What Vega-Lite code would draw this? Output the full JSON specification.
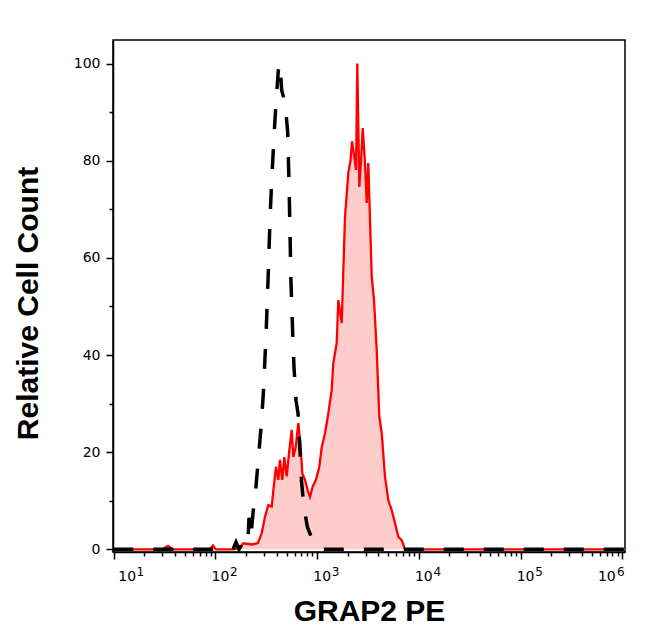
{
  "$schema": "https://vega.github.io/schema/vega-lite/v6.json",
  "width": 512,
  "height": 512,
  "autosize": "none",
  "padding": {"left": 113, "top": 40, "right": 21, "bottom": 89},
  "background": "white",
  "datasets": {
    "sample": [
      {"x": 9.9, "y": 0}, {"x": 30, "y": 0}, {"x": 34.2, "y": 0.7}, {"x": 38, "y": 0},
      {"x": 88, "y": 0}, {"x": 94.7, "y": 0.8}, {"x": 101, "y": 0}, {"x": 148.9, "y": 0},
      {"x": 174.4, "y": 0.3}, {"x": 186.7, "y": 1.2}, {"x": 195.3, "y": 1.2}, {"x": 229, "y": 1.0},
      {"x": 262, "y": 1.3}, {"x": 285, "y": 3.3}, {"x": 307, "y": 6.7}, {"x": 331, "y": 9.1},
      {"x": 357.6, "y": 8.8}, {"x": 370.7, "y": 12.1}, {"x": 394, "y": 17}, {"x": 415, "y": 14.3},
      {"x": 431, "y": 18.4}, {"x": 454.6, "y": 14.3}, {"x": 475.6, "y": 19}, {"x": 502, "y": 15},
      {"x": 529, "y": 19.8}, {"x": 562, "y": 24.6}, {"x": 583, "y": 19}, {"x": 615, "y": 21},
      {"x": 653, "y": 26}, {"x": 689, "y": 21}, {"x": 715, "y": 15.6}, {"x": 760, "y": 14.3},
      {"x": 808, "y": 12.1}, {"x": 851, "y": 10.8}, {"x": 904, "y": 12.9}, {"x": 974, "y": 14.3},
      {"x": 1050, "y": 17}, {"x": 1109, "y": 21}, {"x": 1195, "y": 23.9}, {"x": 1288, "y": 28},
      {"x": 1390, "y": 32.8}, {"x": 1441, "y": 38.3}, {"x": 1557, "y": 42.5}, {"x": 1614, "y": 51.3},
      {"x": 1744, "y": 46.6}, {"x": 1879, "y": 68.5}, {"x": 2025, "y": 77.5}, {"x": 2128, "y": 80},
      {"x": 2200, "y": 84}, {"x": 2268, "y": 82.2}, {"x": 2411, "y": 78.1}, {"x": 2482, "y": 100}, {"x": 2597, "y": 74.6},
      {"x": 2700, "y": 80}, {"x": 2805, "y": 86.7}, {"x": 2955, "y": 79.5}, {"x": 3070, "y": 71.3}, {"x": 3184, "y": 79.5},
      {"x": 3440, "y": 56.1}, {"x": 3623, "y": 51.3}, {"x": 3850, "y": 41}, {"x": 4085, "y": 27.3},
      {"x": 4313, "y": 23.9}, {"x": 4647, "y": 14.9}, {"x": 5007, "y": 10.1}, {"x": 5408, "y": 8.1},
      {"x": 5827, "y": 5.4}, {"x": 6280, "y": 2.6}, {"x": 6781, "y": 1.9}, {"x": 7306, "y": 0},
      {"x": 1060000, "y": 0}
    ],
    "control": [
      {"x": 9.9, "y": 0}, {"x": 148.9, "y": 0}, {"x": 159.4, "y": 1.5}, {"x": 170.5, "y": 0},
      {"x": 182.5, "y": 1}, {"x": 195.3, "y": 0.3}, {"x": 209, "y": 2}, {"x": 213.8, "y": 6.5},
      {"x": 223.8, "y": 3}, {"x": 237.9, "y": 9}, {"x": 250.6, "y": 13}, {"x": 265, "y": 19},
      {"x": 280.6, "y": 25}, {"x": 295.6, "y": 32}, {"x": 314.4, "y": 44}, {"x": 331, "y": 57},
      {"x": 344, "y": 68}, {"x": 357.6, "y": 76}, {"x": 376.6, "y": 85}, {"x": 394, "y": 92},
      {"x": 415, "y": 98.5}, {"x": 431, "y": 100}, {"x": 448, "y": 94.5}, {"x": 483, "y": 92},
      {"x": 513, "y": 86}, {"x": 529, "y": 75.5}, {"x": 541, "y": 65}, {"x": 553, "y": 55},
      {"x": 575, "y": 44.5}, {"x": 592, "y": 37.5}, {"x": 620, "y": 30.6}, {"x": 649, "y": 28},
      {"x": 671, "y": 22}, {"x": 702, "y": 14}, {"x": 743, "y": 8.5}, {"x": 804, "y": 4.5},
      {"x": 917, "y": 1.5}, {"x": 974, "y": 1.3}, {"x": 1067, "y": 0.7}, {"x": 1142, "y": 0},
      {"x": 1060000, "y": 0}
    ]
  },
  "resolve": {"axis": {"x": "independent"}},
  "layer": [
    {
      "data": {"name": "sample"},
      "mark": {"type": "area", "color": "#FFCCCC", "opacity": 1},
      "encoding": {
        "x": {
          "field": "x", "type": "quantitative",
          "scale": {"type": "log", "domain": [9.84, 1063000], "nice": false},
          "axis": {
            "orient": "bottom",
            "title": "GRAP2 PE",
            "values": [10,20,30,40,50,60,70,80,90,100,200,300,400,500,600,700,800,900,1000,2000,3000,4000,5000,6000,7000,8000,9000,10000,20000,30000,40000,50000,60000,70000,80000,90000,100000,200000,300000,400000,500000,600000,700000,800000,900000,1000000],
            "labelExpr": "indexof([10,100,1000,10000,100000,1000000], datum.value) >= 0 ? '10' : ''",
            "tickSize": {"condition": {"test": "indexof([10,100,1000,10000,100000,1000000], datum.value) >= 0", "value": 7}, "value": 4},
            "labelAlign": "center",
            "labelOffset": {"condition": [
              {"test": "datum.value == 10", "value": 13},
              {"test": "datum.value == 1000000", "value": -16}
            ], "value": 4.5},
            "labelPadding": 10,
            "labelFontSize": 14,
            "labelOverlap": false,
            "labelFlush": false,
            "titlePadding": 13
          }
        },
        "y": {
          "field": "y", "type": "quantitative",
          "scale": {"domain": [-0.55, 104.85], "nice": false, "zero": false},
          "axis": {
            "title": "Relative Cell Count",
            "values": [0,5,10,15,20,25,30,35,40,45,50,55,60,65,70,75,80,85,90,95,100],
            "labelExpr": "datum.value % 20 == 0 ? datum.label : ''",
            "tickSize": {"condition": {"test": "datum.value % 20 == 0", "value": 7}, "value": 4},
            "labelPadding": 6,
            "labelFontSize": 14,
            "labelOverlap": false,
            "labelFlush": false,
            "titlePadding": 30,
            "titleY": 263
          }
        },
        "y2": {"datum": 0}
      }
    },
    {
      "data": {"name": "sample"},
      "mark": {"type": "line", "color": "#FF0000", "strokeWidth": 2.3},
      "encoding": {
        "x": {"field": "x", "type": "quantitative", "axis": null},
        "y": {"field": "y", "type": "quantitative"}
      }
    },
    {
      "data": {"name": "control"},
      "mark": {"type": "line", "color": "black", "strokeWidth": 3.5, "strokeDash": [20, 20]},
      "encoding": {
        "x": {
          "field": "x", "type": "quantitative",
          "axis": {
            "orient": "bottom",
            "title": null,
            "domain": false,
            "ticks": false,
            "values": [10,100,1000,10000,100000,1000000],
            "labelExpr": "datum.value == 10 ? '1' : datum.value == 100 ? '2' : datum.value == 1000 ? '3' : datum.value == 10000 ? '4' : datum.value == 100000 ? '5' : '6'",
            "labelAlign": "center",
            "labelOffset": {"condition": [
              {"test": "datum.value == 10", "value": 26},
              {"test": "datum.value == 1000000", "value": -2}
            ], "value": 18},
            "labelPadding": 14,
            "labelFontSize": 12,
            "labelOverlap": false,
            "labelFlush": false
          }
        },
        "y": {"field": "y", "type": "quantitative"}
      }
    }
  ],
  "config": {
    "view": {"stroke": "black", "strokeWidth": 1.5},
    "axis": {
      "domainColor": "black", "domainWidth": 1.5,
      "tickColor": "black", "tickWidth": 1.5,
      "labelColor": "black", "titleColor": "black",
      "grid": false,
      "labelFont": "DejaVu Sans",
      "titleFont": "Liberation Sans", "titleFontWeight": "bold", "titleFontSize": 30
    }
  }
}
